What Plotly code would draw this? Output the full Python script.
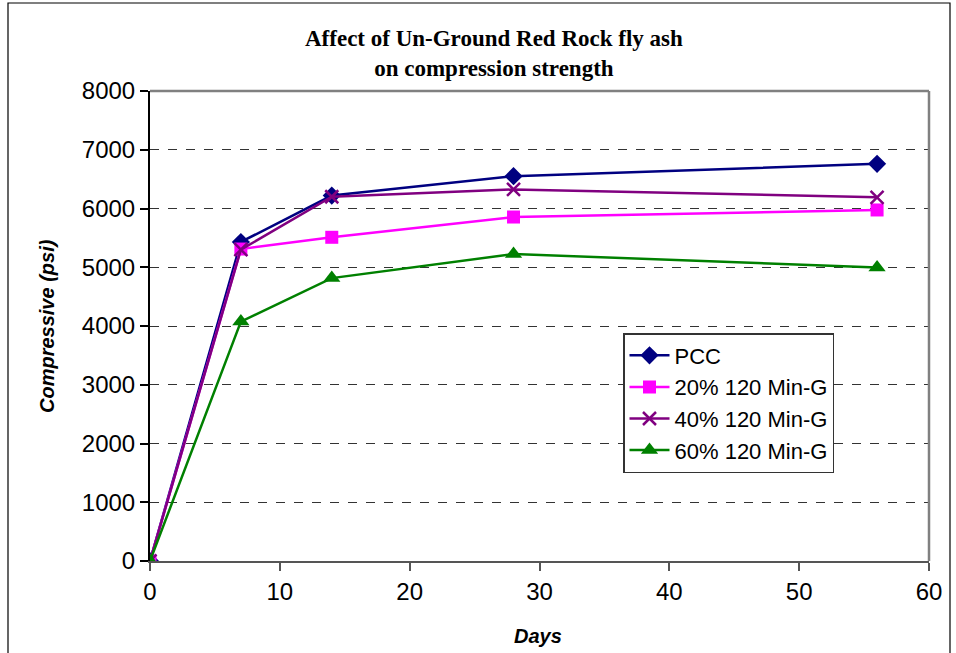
import plotly.graph_objects as go

days = [0, 7, 14, 28, 56]
pcc = [0, 5430, 6220, 6550, 6760]
g20 = [0, 5310, 5510, 5855, 5975]
g40 = [0, 5300, 6200, 6325, 6190]
g60 = [0, 4075, 4815, 5225, 4995]

series = [
    ("PCC", pcc, "#000080", "diamond", 14),
    ("20% 120 Min-G", g20, "#FF00FF", "square", 13),
    ("40% 120 Min-G", g40, "#800080", "x-thin-open", 13),
    ("60% 120 Min-G", g60, "#008000", "triangle-up", 15),
]

fig = go.Figure()
for name, vals, color, sym, size in series:
    fig.add_trace(go.Scatter(
        x=days, y=vals, name=name, mode="lines+markers",
        line=dict(color=color, width=2.5),
        marker=dict(symbol=sym, size=size, color=color,
                    line=dict(color=color, width=2.5 if "x" in sym else 0)),
    ))

W, H = 956, 653
L, R, T, B = 150, 27, 91, 92
pw, ph = W - L - R, H - T - B

def px(xp):
    return (xp - L) / pw

def py(yp):
    return (H - B - yp) / ph

fig.update_layout(
    width=W, height=H,
    margin=dict(l=L, r=R, t=T, b=B),
    paper_bgcolor="white", plot_bgcolor="white",
    font=dict(family="Liberation Sans, Arial", color="black"),
    showlegend=True,
    legend=dict(
        x=px(623), y=py(333), xanchor="left", yanchor="top",
        bgcolor="white", bordercolor="#333333", borderwidth=1.5,
        font=dict(size=22, family="Liberation Sans, Arial"),
        itemwidth=40, tracegroupgap=0,
    ),
    xaxis=dict(
        range=[0, 60], tickvals=[0, 10, 20, 30, 40, 50, 60],
        showgrid=False, zeroline=False,
        showline=True, linecolor="#555555", linewidth=2,
        ticks="outside", ticklen=8, tickcolor="#555555", tickwidth=1.5,
        tickfont=dict(size=24),
    ),
    yaxis=dict(
        range=[0, 8000], tickvals=list(range(0, 8001, 1000)),
        showgrid=True, gridcolor="#333333", griddash="dash", gridwidth=1,
        zeroline=False,
        showline=True, linecolor="black", linewidth=2,
        ticks="outside", ticklen=8, tickcolor="black", tickwidth=1.5,
        tickfont=dict(size=24),
    ),
    shapes=[
        dict(type="line", xref="paper", yref="paper", x0=0, x1=1, y0=1, y1=1,
             line=dict(color="#808080", width=2.5)),
        dict(type="line", xref="paper", yref="paper", x0=1, x1=1, y0=0, y1=1,
             line=dict(color="#808080", width=2.5)),
        dict(type="rect", xref="paper", yref="paper",
             x0=px(8), x1=px(950), y0=py(700), y1=py(3),
             line=dict(color="black", width=1.2), layer="below"),
    ],
    annotations=[
        dict(text="<b>Affect of Un-Ground Red Rock fly ash<br>on compression strength</b>",
             xref="paper", yref="paper", x=px(494), y=py(53), xanchor="center", yanchor="middle",
             showarrow=False, font=dict(family="Liberation Serif, Times New Roman", size=23)),
        dict(text="<b><i>Days</i></b>", xref="paper", yref="paper",
             x=px(538), y=py(636), xanchor="center", yanchor="middle",
             showarrow=False, font=dict(size=20)),
        dict(text="<b><i>Compressive (psi)</i></b>", xref="paper", yref="paper",
             x=px(47), y=py(326), xanchor="center", yanchor="middle", textangle=-90,
             showarrow=False, font=dict(size=20)),
    ],
)

fig.write_html("out.html", config={"displayModeBar": False},
               post_script="document.body.style.margin='0';document.body.style.padding='0';")
